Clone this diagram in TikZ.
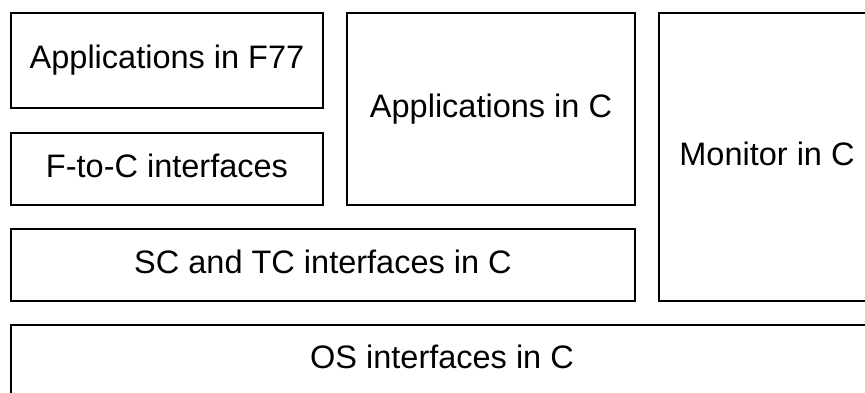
\documentclass[tikz,border=0pt]{standalone}
\usepackage{fontspec}
\setmainfont{Liberation Sans}
\begin{document}
\begin{tikzpicture}[x=1pt,y=-1pt,
  layerbox/.style={draw=black, line width=2pt, inner sep=0pt,
    font=\fontsize{32.5}{39}\selectfont,
    text height=23.4pt, text depth=6.8pt}]
  \useasboundingbox (0,0) rectangle (865,393);
  % application layer
  \node[layerbox, minimum width=312pt, minimum height=95pt]  (f77)  at (167,60.5) {Applications in F77};
  \node[layerbox, minimum width=312pt, minimum height=72pt]  (ftoc) at (167,169)  {F-to-C interfaces};
  \node[layerbox, minimum width=288pt, minimum height=192pt] (appc) at (491,109)  {Applications in C};
  % monitor spans the upper layers
  \node[layerbox, minimum width=216pt, minimum height=288pt] (mon)  at (767,157)  {Monitor in C};
  % interface layers
  \node[layerbox, minimum width=624pt, minimum height=72pt]  (sctc) at (323,265)  {SC and TC interfaces in C};
  \node[layerbox, minimum width=862pt, minimum height=71pt]  (os)   at (442,360.5) {OS interfaces in C};
\end{tikzpicture}
\end{document}
